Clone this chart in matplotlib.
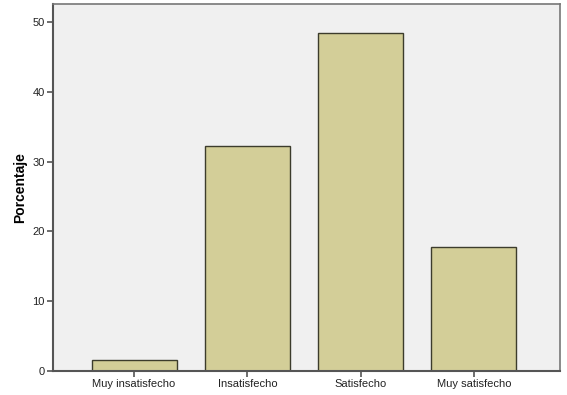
import matplotlib
matplotlib.use('Agg')
import matplotlib.pyplot as plt

# data
categories = ['Muy insatisfecho', 'Insatisfecho', 'Satisfecho', 'Muy satisfecho']
percentages = [1.6, 32.3, 48.5, 17.8]
y_ticks = [0, 10, 20, 30, 40, 50]

plt.rcParams['font.family'] = ['Liberation Sans', 'DejaVu Sans']

fig = plt.figure(figsize=(5.67, 3.95), dpi=100)
fig.patch.set_facecolor('white')
ax = fig.add_axes([0.0935, 0.0608, 0.8942, 0.9291])
ax.set_facecolor('#f0f0f0')

x = range(len(categories))
ax.bar(x, percentages, width=0.75, color='#d3ce98', edgecolor='#3c3c2c', linewidth=1.0, zorder=2)

ax.set_xlim(-0.715, 3.76)
ax.set_ylim(0, 52.6)
ax.set_xticks(list(x))
ax.set_xticklabels(categories, fontsize=8, color='#222222')
ax.set_yticks(y_ticks)
ax.set_yticklabels([str(v) for v in y_ticks], fontsize=8, color='#222222')
ax.set_ylabel('Porcentaje', fontsize=10, fontweight='bold', labelpad=4)

# frame: dark left/bottom, lighter top/right
for side in ['left', 'bottom']:
    ax.spines[side].set_color('#555555')
    ax.spines[side].set_linewidth(1.5)
for side in ['top', 'right']:
    ax.spines[side].set_color('#777777')
    ax.spines[side].set_linewidth(1.2)
ax.tick_params(axis='both', direction='out', length=4, width=1.2, color='#555555', pad=2)

fig.savefig('out.png', dpi=100)
